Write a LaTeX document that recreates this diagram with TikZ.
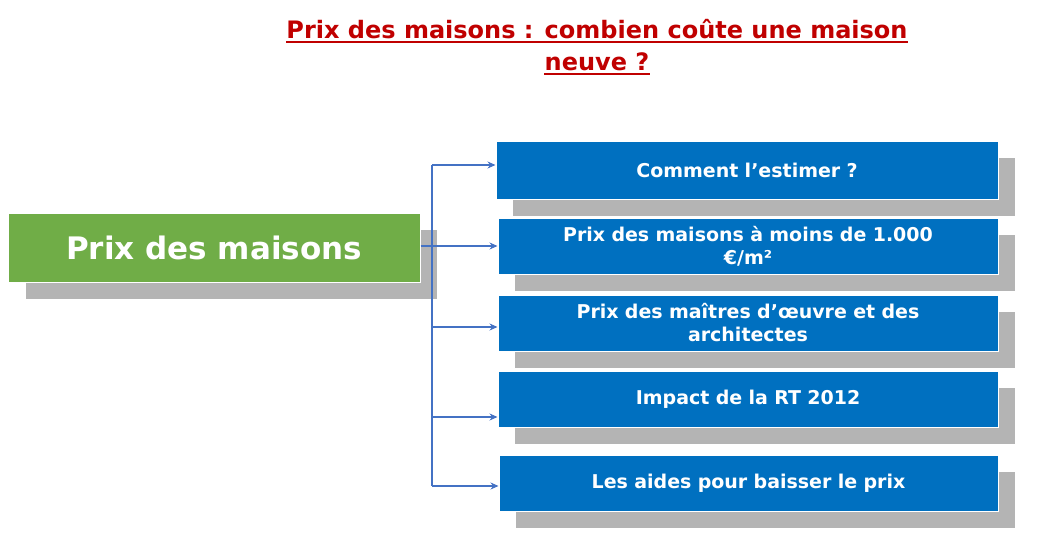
\documentclass[tikz,border=0pt]{standalone}
\usepackage{fontspec}
\setmainfont{DejaVu Sans}
\usetikzlibrary{arrows.meta}
\definecolor{tred}{HTML}{C00000}
\definecolor{gbox}{HTML}{70AD47}
\definecolor{bbox}{HTML}{0070C0}
\definecolor{shad}{HTML}{B4B4B4}
\definecolor{conn}{HTML}{4472C4}
\begin{document}
\begin{tikzpicture}[x=1pt,y=-1pt,
  titlef/.style={text=tred,font=\fontsize{24}{32}\selectfont\bfseries,inner sep=0pt,anchor=base},
  bluebox/.style={fill=bbox,draw=white,line width=1pt,text=white,font=\fontsize{19}{23}\selectfont\bfseries,align=center,inner sep=0pt},
  arr/.style={-{Stealth[length=8pt,width=7pt]},draw=conn,line width=1.5pt}]
\useasboundingbox (0,0) rectangle (1041,549);
\node[titlef] (t1) at (597,38) {Prix des maisons : combien coûte une maison};
\node[titlef] (t2) at (597,70) {neuve ?};
\draw[tred,line width=2pt] ([yshift=-4pt]t1.base west) -- ([yshift=-4pt]t1.base east);
\draw[tred,line width=2pt] ([yshift=-4pt]t2.base west) -- ([yshift=-4pt]t2.base east);
% left box
\fill[shad] (26,230) rectangle (437,299);
\node[fill=gbox,draw=white,line width=1pt,minimum width=412pt,minimum height=69pt,text=white,font=\fontsize{31}{36}\selectfont\bfseries,inner sep=0pt] (main) at (214,247.5) {Prix des maisons};
% right boxes
\foreach \n/\xa/\ya/\yb/\txt in {b1/496/141/199/{Comment l’estimer ?},b2/498/218/274/{Prix des maisons à moins de 1.000\\€/m²},b3/498/295/351/{Prix des maîtres d’œuvre et des\\architectes},b4/498/371/427/{Impact de la RT 2012},b5/499/455/511/{Les aides pour baisser le prix}}{
  \fill[shad] (\xa+17,\ya+17) rectangle (1015,\yb+17);
  \node[bluebox,minimum width={998-\xa},minimum height={\yb-\ya},text width=470pt] (\n) at ({(\xa+998)/2},{(\ya+\yb)/2}) {\txt};
}
\coordinate (top) at (432,165);
\coordinate (bot) at (432,486);
\coordinate (m3) at (432,327);
\coordinate (m4) at (432,417);
\draw[conn,line width=1.5pt] (top) -- (bot);
\draw[arr] (top) -- (b1.west |- top);
\draw[arr] (main.east |- b2.west) -- (b2.west);
\draw[arr] (m3) -- (b3.west |- m3);
\draw[arr] (m4) -- (b4.west |- m4);
\draw[arr] (bot) -- (b5.west |- bot);
\end{tikzpicture}
\end{document}
